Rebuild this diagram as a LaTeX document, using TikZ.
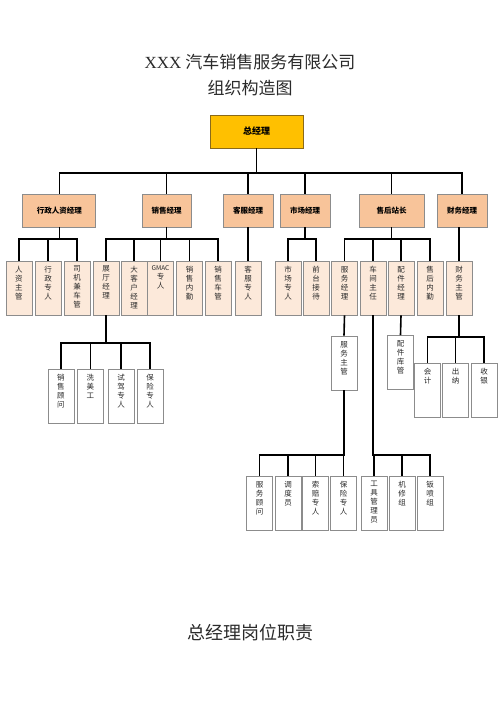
\documentclass[tikz,border=0pt]{standalone}
\usepackage{xcolor}
\usepackage{fontspec}
\newfontfamily\cjk{Noto Sans CJK SC}
\newfontfamily\latin{Liberation Serif}
\usetikzlibrary{positioning, calc}

\definecolor{gmgold}{HTML}{FFC000}
\definecolor{gmedge}{HTML}{8A6A1A}
\definecolor{deptfill}{HTML}{F8C49A}
\definecolor{postfill}{HTML}{FCE9DA}
\definecolor{boxedge}{HTML}{8C8C8C}
\definecolor{txtgray}{HTML}{2A2A2A}

% vertical text, from the top of the box
\newcommand{\vtxt}[1]{\parbox[c][54pt][t]{26pt}{\centering\vspace*{5pt}#1\par}}

\tikzset{
  gmbox/.style={draw=gmedge, fill=gmgold, line width=0.9pt, minimum width=93pt, minimum height=33pt, inner sep=0pt, font=\cjk\bfseries\fontsize{9}{9}\selectfont},
  dept/.style={draw=boxedge, fill=deptfill, line width=0.9pt, minimum height=33pt, inner sep=0pt, font=\cjk\bfseries\fontsize{7.5}{8}\selectfont},
  post/.style={draw=boxedge, fill=postfill, line width=0.9pt, minimum width=26pt, minimum height=54pt, inner sep=0pt, text=txtgray, font=\cjk\fontsize{7.5}{9}\selectfont},
  staff/.style={post, fill=white},
  conn/.style={line width=1.6pt, black},
}

\begin{document}
\begin{tikzpicture}[x=1pt, y=-1pt]
\fill[white] (0,0) rectangle (500,707);
\useasboundingbox (0,0) rectangle (500,707);

% Titles
\node[font=\cjk\fontsize{17}{17}\selectfont, text=txtgray] (title) at (250,62) {{\latin XXX} 汽车销售服务有限公司};
\node[font=\cjk\fontsize{17}{17}\selectfont, text=txtgray] (subtitle) at (250,88) {组织构造图};
\node[font=\cjk\fontsize{18}{18}\selectfont, text=txtgray] (duty) at (250,633) {总经理岗位职责};

% Top
\node[gmbox] (gm) at (256.5,131.5) {总经理};

% Departments
\node[dept, minimum width=73pt] (hr) at (59.3,210.5) {行政人资经理};
\node[dept, minimum width=49pt] (sales) at (166.5,210.5) {销售经理};
\node[dept, minimum width=50pt] (cs) at (248,210.5) {客服经理};
\node[dept, minimum width=50pt] (mkt) at (305,210.5) {市场经理};
\node[dept, minimum width=65pt] (aft) at (391.5,210.5) {售后站长};
\node[dept, minimum width=50pt] (fin) at (462,210.5) {财务经理};

% Posts
\foreach \nm/\x/\txt in {
  hr1/19/{人\\资\\主\\管}, hr2/48/{行\\政\\专\\人}, hr3/77/{司\\机\\兼\\车\\管},
  s1/106/{展\\厅\\经\\理}, s2/134/{大\\客\\户\\经\\理},
  s3/160.5/{{\fontsize{6.5}{7}\selectfont GMAC}\\专\\人},
  s4/189.5/{销\\售\\内\\勤}, s5/218/{销\\售\\车\\管},
  cs1/248/{客\\服\\专\\人},
  m1/288/{市\\场\\专\\人}, m2/316/{前\\台\\接\\待},
  a1/344.5/{服\\务\\经\\理}, a2/373/{车\\间\\主\\任}, a3/401/{配\\件\\经\\理}, a4/430/{售\\后\\内\\勤},
  f1/459/{财\\务\\主\\管}
}{
  \node[post] (\nm) at (\x,288) {\vtxt{\txt}};
}

% Staff under 展厅经理
\foreach \nm/\x/\txt in {
  sc1/61/{销\\售\\顾\\问}, sc2/90.5/{洗\\美\\工}, sc3/121/{试\\驾\\专\\人}, sc4/150/{保\\险\\专\\人}
}{
  \node[staff] (\nm) at (\x,396.5) {\vtxt{\txt}};
}

% Staff under 服务经理 / 配件经理 / 财务主管
\node[staff] (sm) at (344,363) {\vtxt{服\\务\\主\\管}};
\node[staff] (pk) at (400.5,362.5) {\vtxt{配\\件\\库\\管}};
\foreach \nm/\x/\txt in {
  fc1/427.5/{会\\计}, fc2/455.5/{出\\纳}, fc3/484/{收\\银}
}{
  \node[staff] (\nm) at (\x,390.5) {\vtxt{\txt}};
}

% Bottom row
\foreach \nm/\x/\txt in {
  e1/259.5/{服\\务\\顾\\问}, e2/288/{调\\度\\员}, e3/315.5/{索\\赔\\专\\人}, e4/343.5/{保\\险\\专\\人},
  w1/374/{工\\具\\管\\理\\员}, w2/402/{机\\修\\组}, w3/430/{钣\\喷\\组}
}{
  \node[staff] (\nm) at (\x,503) {\vtxt{\txt}};
}

% Bus levels
\coordinate (busA) at (0,173);
\coordinate (busB) at (0,239);
\coordinate (busC) at (0,343);
\coordinate (busD) at (0,337);
\coordinate (busE) at (0,455);

% Connectors
\foreach \d in {hr,sales,cs,mkt,aft,fin}
  \draw[conn] (gm.south) |- (\d.north |- busA) -- (\d.north);
\foreach \p/\c in {hr/hr1, hr/hr2, hr/hr3, sales/s1, sales/s2, sales/s3, sales/s4, sales/s5,
  mkt/m1, mkt/m2, aft/a1, aft/a2, aft/a3, aft/a4}
  \draw[conn] (\p.south) |- (\c.north |- busB) -- (\c.north);
\draw[conn] (cs.south) -- (cs1.north);
\draw[conn] (f1.north |- fin.south) -- (f1.north);
\foreach \c in {sc1,sc2,sc3,sc4}
  \draw[conn] (s1.south) |- (\c.north |- busC) -- (\c.north);
\draw[conn] (a1.south) -- (sm.north);
\draw[conn] (a3.south) -- (pk.north);
\foreach \c in {fc1,fc2,fc3}
  \draw[conn] (f1.south) |- (\c.north |- busD) -- (\c.north);
\foreach \c in {e1,e2,e3,e4}
  \draw[conn] (sm.south) |- (\c.north |- busE) -- (\c.north);
\foreach \c in {w1,w2,w3}
  \draw[conn] (a2.south) |- (\c.north |- busE) -- (\c.north);
\end{tikzpicture}
\end{document}
